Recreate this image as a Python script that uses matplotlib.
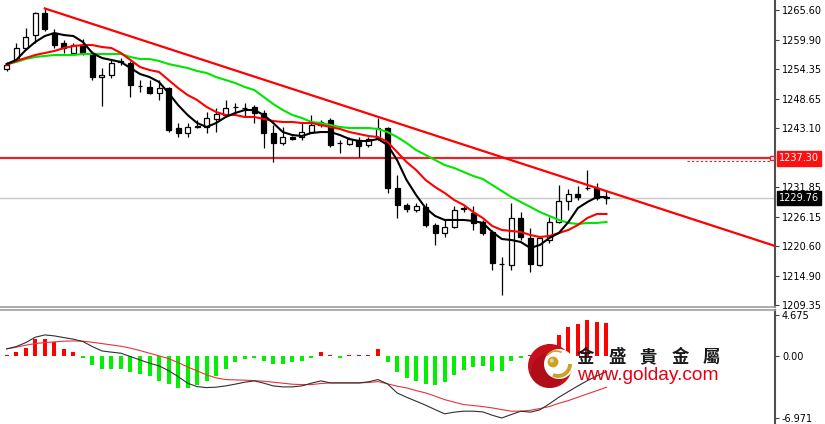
import matplotlib
matplotlib.use('Agg')
import matplotlib.pyplot as plt
from matplotlib.patches import Circle, Arc
import numpy as np

# ---------------- data ----------------
opens = [1254.35, 1256.1, 1258.4, 1260.8, 1265.0, 1261.2, 1259.3, 1257.4, 1258.9, 1257.4,
         1252.8, 1253.2, 1255.7, 1255.5, 1251.1, 1250.9, 1249.8, 1250.7, 1243.1, 1242.1,
         1243.3, 1243.3, 1244.8, 1245.6, 1247.1, 1246.9, 1247.1, 1246.0, 1242.1, 1240.2,
         1241.4, 1241.4, 1242.3, 1243.7, 1244.6, 1240.2, 1240.0, 1240.8, 1239.9, 1241.2,
         1243.1, 1231.7, 1228.4, 1227.5, 1228.0, 1224.6, 1223.1, 1224.2, 1227.7, 1226.9,
         1225.2, 1223.3, 1217.2, 1216.9, 1225.9, 1222.2, 1217.0, 1221.7, 1225.2, 1229.2,
         1230.5, 1231.7, 1231.7, 1229.9]
highs = [1255.7, 1259.3, 1262.2, 1265.2, 1265.8, 1262.0, 1259.9, 1259.3, 1260.1, 1257.8,
         1254.5, 1256.1, 1256.4, 1255.9, 1252.3, 1252.3, 1252.3, 1250.9, 1244.0, 1244.0,
         1244.6, 1246.1, 1246.9, 1248.4, 1247.9, 1247.9, 1247.5, 1246.5, 1243.7, 1243.3,
         1241.6, 1244.2, 1245.6, 1244.6, 1245.0, 1240.8, 1241.4, 1241.4, 1241.4, 1245.0,
         1243.3, 1234.1, 1228.8, 1228.8, 1228.8, 1225.0, 1225.6, 1228.2, 1228.2, 1228.2,
         1225.6, 1223.6, 1218.5, 1228.8, 1227.1, 1224.0, 1222.3, 1226.1, 1232.3, 1231.5,
         1232.0, 1235.1, 1232.6, 1231.3]
lows = [1254.0, 1255.7, 1258.0, 1259.3, 1261.6, 1258.4, 1257.4, 1257.0, 1257.0, 1252.3,
        1247.3, 1252.6, 1255.1, 1249.0, 1250.0, 1249.6, 1248.4, 1242.3, 1241.4, 1241.4,
        1243.1, 1242.1, 1242.3, 1245.2, 1245.6, 1245.2, 1244.0, 1239.3, 1236.6, 1239.9,
        1240.8, 1240.8, 1242.1, 1243.3, 1239.5, 1238.3, 1239.9, 1237.6, 1239.5, 1240.8,
        1230.7, 1225.9, 1227.0, 1227.0, 1224.2, 1220.8, 1222.3, 1224.0, 1227.0, 1223.6,
        1222.7, 1216.0, 1211.3, 1216.0, 1221.7, 1215.6, 1216.8, 1221.2, 1225.0, 1227.5,
        1229.4, 1231.3, 1229.4, 1228.6]
closes = [1255.1, 1258.4, 1260.45, 1265.0, 1262.0, 1258.9, 1258.4, 1258.9, 1257.4, 1252.8,
          1253.2, 1255.5, 1255.9, 1251.3, 1251.1, 1249.8, 1250.7, 1242.7, 1242.1, 1243.3,
          1243.4, 1245.0, 1245.8, 1246.9, 1247.1, 1246.9, 1245.9, 1242.1, 1240.2, 1241.4,
          1241.0, 1242.3, 1243.7, 1244.2, 1239.9, 1240.2, 1241.0, 1239.6, 1241.0, 1243.1,
          1231.7, 1228.4, 1227.6, 1228.2, 1224.6, 1223.1, 1224.2, 1227.5, 1227.8, 1225.0,
          1223.1, 1217.3, 1217.1, 1225.9, 1222.3, 1217.2, 1222.1, 1225.2, 1229.2, 1230.5,
          1229.9, 1231.7, 1229.8, 1229.76]

ma_fast = [1255.30, 1256.07, 1257.97, 1259.50, 1260.64, 1261.21, 1260.83, 1260.64, 1259.50, 1257.40,
           1256.45, 1256.07, 1255.68, 1254.54, 1253.40, 1252.82, 1251.87, 1249.77, 1247.48, 1245.58,
           1244.05, 1243.29, 1244.05, 1245.20, 1245.96, 1246.53, 1246.53, 1245.58, 1244.05, 1242.33,
           1241.76, 1241.57, 1242.14, 1242.33, 1242.33, 1241.76, 1241.00, 1240.62, 1240.62, 1241.00,
           1239.86, 1237.00, 1233.18, 1230.32, 1227.84, 1226.32, 1225.56, 1225.56, 1225.56, 1225.37,
           1224.99, 1223.27, 1221.93, 1221.74, 1221.36, 1220.22, 1220.79, 1222.12, 1223.08, 1225.17,
           1227.84, 1228.99, 1229.94, 1229.94]
ma_mid = [1255.11, 1255.88, 1256.45, 1257.02, 1257.40, 1257.78, 1258.35, 1258.73, 1258.92, 1258.92,
          1258.54, 1258.35, 1257.40, 1256.07, 1254.73, 1254.16, 1253.78, 1252.25, 1250.73, 1249.39,
          1248.44, 1247.11, 1246.15, 1245.58, 1245.58, 1245.20, 1245.20, 1244.82, 1244.43, 1244.24,
          1244.24, 1244.05, 1244.05, 1243.67, 1243.29, 1242.91, 1242.33, 1241.95, 1241.57, 1241.38,
          1240.43, 1238.52, 1236.61, 1235.09, 1233.18, 1231.84, 1230.71, 1229.37, 1228.42, 1227.08,
          1225.94, 1224.41, 1223.65, 1223.46, 1223.27, 1222.69, 1222.31, 1222.50, 1223.08, 1223.65,
          1224.61, 1225.94, 1226.70, 1226.70]
ma_slow = [1255.30, 1255.68, 1256.26, 1256.64, 1256.83, 1257.02, 1257.02, 1257.02, 1257.21, 1257.21,
           1257.21, 1257.21, 1257.21, 1256.64, 1256.26, 1256.26, 1255.88, 1255.30, 1254.92, 1254.54,
           1253.97, 1253.59, 1252.82, 1252.25, 1251.68, 1250.92, 1250.35, 1249.01, 1247.67, 1246.53,
           1245.58, 1245.01, 1244.24, 1244.05, 1243.67, 1243.29, 1243.10, 1243.10, 1243.10, 1242.91,
           1242.33, 1241.38, 1240.24, 1238.90, 1237.95, 1237.00, 1236.04, 1235.47, 1234.71, 1233.95,
           1233.38, 1232.23, 1231.09, 1229.94, 1228.99, 1228.04, 1227.08, 1226.32, 1225.56, 1224.99,
           1224.80, 1224.99, 1224.99, 1225.17]

macd_hist = [0.2, 0.5, 0.9, 1.96, 1.96, 1.58, 0.83, 0.52, -0.15, -0.98,
             -1.44, -1.44, -1.4, -1.74, -2.0, -2.19, -2.76, -3.13, -3.62, -3.62,
             -3.25, -2.76, -2.19, -1.4, -0.68, -0.26, -0.15, -0.5, -0.87, -0.87,
             -0.68, -0.5, -0.15, 0.45, 0.2, -0.15, 0.2, 0.2, 0.2, 0.86,
             -0.62, -1.75, -2.5, -2.73, -3.1, -3.26, -2.95, -2.15, -1.5, -1.22,
             -1.1, -1.67, -1.6, -0.54, -0.15, 0.2, 0.5, 1.4, 2.42, 3.29,
             3.67, 4.08, 3.93, 3.78]
macd_line = [0.85, 1.11, 1.56, 2.17, 2.43, 2.32, 2.13, 1.95, 1.68, 1.11,
             0.62, 0.48, 0.36, -0.02, -0.4, -0.77, -1.07, -1.61, -2.28, -3.03,
             -3.42, -3.53, -3.48, -3.34, -3.14, -2.92, -2.77, -3.03, -3.34, -3.45,
             -3.45, -3.34, -3.03, -2.77, -3.0, -3.0, -3.0, -3.0, -2.88, -2.62,
             -3.11, -4.13, -4.62, -5.07, -5.52, -6.02, -6.5, -6.31, -6.2, -6.2,
             -6.28, -6.66, -6.97, -6.58, -6.2, -6.31, -6.05, -5.37, -4.62, -3.98,
             -3.34, -2.74, -2.2, -1.72]
macd_signal = [0.85, 1.04, 1.27, 1.45, 1.56, 1.64, 1.72, 1.75, 1.72, 1.6,
               1.45, 1.3, 1.15, 0.93, 0.66, 0.36, 0.06, -0.25, -0.7, -1.19,
               -1.64, -2.09, -2.43, -2.62, -2.66, -2.69, -2.74, -2.81, -2.92, -3.03,
               -3.15, -3.19, -3.19, -3.07, -3.0, -3.0, -3.0, -3.0, -2.95, -2.85,
               -3.11, -3.37, -3.56, -3.87, -4.13, -4.5, -4.89, -5.18, -5.45, -5.56,
               -5.68, -5.83, -6.02, -6.2, -6.2, -6.1, -5.9, -5.68, -5.3, -5.0,
               -4.62, -4.24, -3.87, -3.49]

price_ticks = [1265.60, 1259.90, 1254.35, 1248.65, 1243.10, 1231.85, 1226.15, 1220.60, 1214.90, 1209.35]
macd_ticks = [4.675, 0.00, -6.971]
macd_tick_labels = ['4.675', '0.00', '-6.971']
alert_price = 1237.30
last_price = 1229.76
trend_idx = [4, 80.7]
trend_price = [1265.9, 1220.6]

# ---------------- figure ----------------
W, H = 825, 424
plt.rcParams['font.family'] = ['DejaVu Sans']
fig = plt.figure(figsize=(W / 100, H / 100), dpi=100)
fig.patch.set_facecolor('white')
ax1 = fig.add_axes([0, 117 / H, 775 / W, 307 / H])
ax2 = fig.add_axes([0, 0, 775 / W, 114 / H])

x = np.arange(len(closes))
o = np.array(opens)
c = np.array(closes)
up = c >= o

# price panel
ax1.axhline(last_price, color='#C8C8C8', lw=1.0, zorder=1)
ax1.axhline(alert_price, color='#E3262B', lw=1.6, zorder=2)
ax1.plot([0.886, 0.993], [alert_price - 0.5] * 2, transform=ax1.get_yaxis_transform(),
         color='#E3262B', lw=0.8, ls=(0, (2, 2)), zorder=2, clip_on=False)
ax1.plot([0.9965], [alert_price], transform=ax1.get_yaxis_transform(), marker='s', ms=3.2,
         mfc='white', mec='#E3262B', mew=1, zorder=7, clip_on=False)

ax1.vlines(x, lows, highs, color='black', lw=0.9, zorder=3)
ax1.bar(x, c - o, bottom=o, width=0.52, color=np.where(up, 'white', 'black'),
        edgecolor='black', linewidth=0.9, zorder=4)

ax1.plot(x, ma_slow, color='#00E600', lw=1.5, zorder=5)
ax1.plot(x, ma_mid, color='#FF0000', lw=1.5, zorder=5)
ax1.plot(x, ma_fast, color='black', lw=1.5, zorder=6)
ax1.plot(trend_idx, trend_price, color='#FF0000', lw=1.6, zorder=6)

# MACD panel
hist = np.array(macd_hist)
ax2.bar(x, hist, width=0.42, color=np.where(hist >= 0, '#FF0000', '#00F000'), zorder=2)
ax2.plot(x, macd_signal, color='#E8323C', lw=0.8, zorder=3)
ax2.plot(x, macd_line, color='#303030', lw=0.8, zorder=3)

for ax in (ax1, ax2):
    ax.set_xlim(-0.704, 80.7)
    ax.set_xticks([])
    ax.yaxis.tick_right()
    ax.tick_params(axis='y', direction='out', length=3, width=0.8, colors='#404040',
                   labelcolor='black', labelsize=7, pad=2)
    ax.spines['left'].set_visible(False)
    ax.spines['right'].set_color('#505050')
    ax.spines['right'].set_linewidth(1.5)
    ax.set_facecolor('white')

ax1.set_ylim(1208.96, 1267.51)
ax1.set_yticks(price_ticks)
ax1.set_yticklabels([f'{v:.2f}' for v in price_ticks])
ax1.spines['top'].set_visible(False)
ax1.spines['bottom'].set_color('#A0A0A0')
ax1.spines['bottom'].set_linewidth(1.2)

ax2.set_ylim(-7.65, 5.25)
ax2.set_yticks(macd_ticks)
ax2.set_yticklabels(macd_tick_labels)
ax2.spines['bottom'].set_visible(False)
ax2.spines['top'].set_color('#A0A0A0')
ax2.spines['top'].set_linewidth(1.2)

# price labels on the axis
ax1.annotate(f'{alert_price:.2f}', xy=(1, alert_price), xycoords=('axes fraction', 'data'),
             xytext=(3, 0), textcoords='offset points', ha='left', va='center', fontsize=7,
             color='white', annotation_clip=False, zorder=8,
             bbox=dict(boxstyle='square,pad=0.22', fc='#FF1010', ec='#FF1010'))
ax1.annotate(f'{last_price:.2f}', xy=(1, last_price), xycoords=('axes fraction', 'data'),
             xytext=(3, 0), textcoords='offset points', ha='left', va='center', fontsize=7,
             color='white', annotation_clip=False, zorder=8,
             bbox=dict(boxstyle='square,pad=0.22', fc='black', ec='black'))

# ---------------- watermark logo ----------------
ov = fig.add_axes([0, 0, 1, 1], zorder=10)
ov.set_xlim(0, W)
ov.set_ylim(H, 0)
ov.axis('off')
ov.patch.set_alpha(0)
ov.add_patch(Circle((550, 366), 22, fc='#C4101C', ec='none'))
ov.add_patch(Circle((548, 371), 17, fc='#9A0A14', ec='none', alpha=0.45))
ov.add_patch(Circle((559, 364), 15, fc='white', ec='none'))
ov.add_patch(Arc((558, 364), 24, 24, theta1=0, theta2=115, color='#C9A227', lw=2.8))
ov.add_patch(Arc((556, 362), 22, 22, theta1=215, theta2=300, color='#C9A227', lw=1.2))
ov.add_patch(Circle((553, 362), 5.4, fc='#C9A227', ec='none'))
ov.add_patch(Circle((551.8, 360.6), 2.1, fc='#E8D27A', ec='none'))

for ch, cx in zip(['金', '盛', '貴', '金', '屬'], [585.5, 617, 648.5, 680, 711]):
    ov.text(cx, 357, ch, ha='center', va='center', fontsize=12.5, color='#1a1a1a',
            fontweight='bold', family=['Noto Sans CJK TC', 'DejaVu Sans'])
ov.text(577, 380.5, 'www.golday.com', ha='left', va='baseline', fontsize=13.8,
        color='#E60012', family=['Liberation Sans', 'DejaVu Sans'])

fig.savefig('out.png', dpi=100, facecolor='white')
